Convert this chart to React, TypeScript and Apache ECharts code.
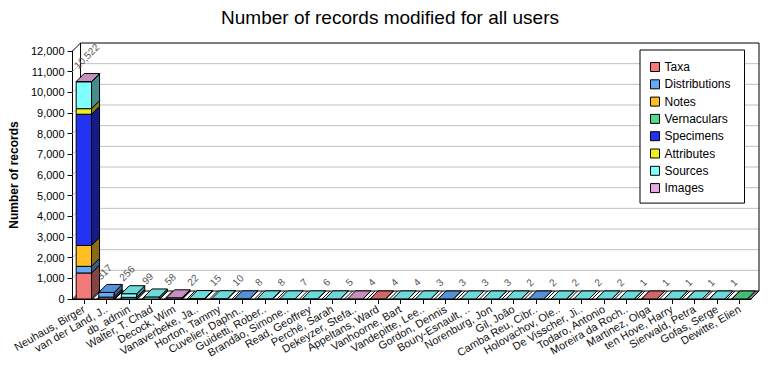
import React, { useEffect, useRef } from "react";
import * as echarts from "echarts";

const categories = [
  "Neuhaus, Birger", "van der Land, J..", "db_admin", "Walter, T. Chad", "Decock, Wim",
  "Vanaverbeke, Ja..", "Horton, Tammy", "Cuvelier, Daphn..", "Guidetti, Rober..", "Brandão, Simone..",
  "Read, Geoffrey", "Perché, Sarah", "Dekeyzer, Stefa..", "Appeltans, Ward", "Vanhoorne, Bart",
  "Vandepitte, Lee..", "Gordon, Dennis", "Boury-Esnault, ..", "Norenburg, Jon", "Gil, João",
  "Camba Reu, Cibr..", "Holovachov, Ole..", "De Visscher, Ji..", "Todaro, Antonio", "Moreira da Roch..",
  "Martinez, Olga", "ten Hove, Harry", "Sierwald, Petra", "Gofas, Serge", "Dewitte, Elien",
];

const taxa =          [1260, 90, 0, 0, 0, 0, 0, 0, 0, 0, 0, 0, 0, 4, 0, 0, 0, 0, 0, 0, 0, 0, 0, 0, 0, 1, 0, 0, 0, 0];
const distributions = [320, 227, 80, 0, 0, 0, 0, 10, 0, 0, 0, 0, 0, 0, 0, 0, 3, 0, 0, 0, 2, 0, 0, 0, 0, 0, 0, 0, 0, 0];
const notes =         [1010, 0, 0, 0, 0, 0, 0, 0, 0, 0, 0, 0, 0, 0, 0, 0, 0, 0, 0, 0, 0, 0, 0, 0, 0, 0, 0, 0, 0, 0];
const vernaculars =   [0, 0, 0, 0, 0, 0, 0, 0, 0, 0, 0, 0, 0, 0, 0, 0, 0, 0, 0, 0, 0, 0, 0, 0, 0, 0, 0, 0, 0, 1];
const specimens =     [6350, 0, 0, 0, 0, 0, 0, 0, 0, 0, 0, 0, 0, 0, 0, 0, 0, 0, 0, 0, 0, 0, 0, 0, 0, 0, 0, 0, 0, 0];
const attributes =    [270, 0, 0, 0, 0, 0, 0, 0, 0, 0, 0, 0, 0, 0, 0, 0, 0, 0, 0, 0, 0, 0, 0, 0, 0, 0, 0, 0, 0, 0];
const sources =       [1302, 0, 176, 99, 0, 22, 15, 0, 8, 8, 7, 6, 0, 0, 4, 4, 0, 3, 3, 3, 0, 2, 2, 2, 2, 0, 1, 1, 1, 0];
const images =        [10, 0, 0, 0, 58, 0, 0, 0, 0, 0, 0, 0, 5, 0, 0, 0, 0, 0, 0, 0, 0, 0, 0, 0, 0, 0, 0, 0, 0, 0];

const seriesNames = ["Taxa", "Distributions", "Notes", "Vernaculars", "Specimens", "Attributes", "Sources", "Images"];
const seriesValues = [taxa, distributions, notes, vernaculars, specimens, attributes, sources, images];
const seriesColors = ["#f47a7a", "#64aaf8", "#ffbf22", "#52dc8a", "#2232f0", "#eeee22", "#80ffff", "#e8a8e0"];

const Y_MAX = 12000;
const Y_STEP = 1000;
const DEPTH = 8;

function shade(hex: string, f: number): string {
  const n = parseInt(hex.slice(1), 16);
  const r = Math.round(((n >> 16) & 255) * f);
  const g = Math.round(((n >> 8) & 255) * f);
  const b = Math.round((n & 255) * f);
  return "rgb(" + r + "," + g + "," + b + ")";
}

export default function App() {
  const ref = useRef<HTMLDivElement>(null);

  useEffect(() => {
    if (!ref.current) return;
    const chart = echarts.init(ref.current, undefined, { renderer: "svg" });

    const totals = categories.map((_, c) => seriesValues.reduce((s, arr) => s + arr[c], 0));
    const topIndex = categories.map((_, c) => {
      let t = -1;
      seriesValues.forEach((arr, s) => { if (arr[c] > 0) t = s; });
      return t;
    });
    const cum = categories.map(() => 0);

    const barSeries = seriesValues.map((arr, s) => {
      const data = arr.map((v, c) => {
        const base = cum[c];
        cum[c] += v;
        return [c, base, base + v, topIndex[c] === s ? 1 : 0];
      });
      const color = seriesColors[s];
      return {
        type: "custom",
        name: seriesNames[s],
        silent: true,
        z: 3,
        itemStyle: { color },
        encode: { x: 0, y: [1, 2] },
        data,
        renderItem: (params: any, api: any) => {
          const c = api.value(0);
          const b = api.value(1);
          const t = api.value(2);
          const isTop = api.value(3);
          if (t <= b) return null;
          const p0 = api.coord([c, b]);
          const p1 = api.coord([c, t]);
          const w = api.size([1, 0])[0] * 0.68;
          const x0 = p0[0] - w / 2;
          const x1 = x0 + w;
          const yb = p0[1];
          const yt = p1[1];
          const children: any[] = [
            {
              type: "rect",
              shape: { x: x0, y: yt, width: w, height: yb - yt },
              style: { fill: color, stroke: "#000", lineWidth: 1 },
            },
            {
              type: "polygon",
              shape: { points: [[x1, yb], [x1 + DEPTH, yb - DEPTH], [x1 + DEPTH, yt - DEPTH], [x1, yt]] },
              style: { fill: shade(color, 0.55), stroke: "#000", lineWidth: 1 },
            },
          ];
          if (isTop) {
            children.push({
              type: "polygon",
              shape: { points: [[x0, yt], [x1, yt], [x1 + DEPTH, yt - DEPTH], [x0 + DEPTH, yt - DEPTH]] },
              style: { fill: shade(color, 0.85), stroke: "#000", lineWidth: 1 },
            });
          }
          return { type: "group", children };
        },
      };
    });

    const yTicks: number[] = [];
    for (let v = 0; v <= Y_MAX; v += Y_STEP) yTicks.push(v);

    const frameSeries = {
      type: "custom",
      name: "frame",
      silent: true,
      z: 1,
      encode: { x: 0, y: 1 },
      data: [[0, 0]],
      renderItem: (params: any, api: any) => {
        const cs = params.coordSys;
        const left = cs.x;
        const right = cs.x + cs.width;
        const bottom = cs.y + cs.height;
        const top = cs.y;
        const D = DEPTH;
        const children: any[] = [];
        yTicks.forEach((v) => {
          if (v === 0) return;
          const y = api.coord([0, v])[1];
          const col = v === Y_MAX ? "#000" : "#c0c0c0";
          children.push({ type: "line", shape: { x1: left + D, y1: y - D, x2: right + D, y2: y - D }, style: { stroke: col, lineWidth: 1 } });
          children.push({ type: "line", shape: { x1: left, y1: y, x2: left + D, y2: y - D }, style: { stroke: col, lineWidth: 1 } });
        });
        children.push({ type: "line", shape: { x1: left + D, y1: top - D, x2: left + D, y2: bottom - D }, style: { stroke: "#000", lineWidth: 1 } });
        children.push({ type: "line", shape: { x1: right + D, y1: top - D, x2: right + D, y2: bottom - D }, style: { stroke: "#000", lineWidth: 1 } });
        children.push({
          type: "polygon",
          shape: { points: [[left, bottom], [right, bottom], [right + D, bottom - D], [left + D, bottom - D]] },
          style: { fill: "#fff", stroke: "#000", lineWidth: 1 },
        });
        for (let x = left + 2; x < right; x += 4.5) {
          children.push({ type: "line", shape: { x1: x, y1: bottom, x2: x + D, y2: bottom - D }, style: { stroke: "#000", lineWidth: 1 } });
        }
        return { type: "group", children };
      },
    };

    const labelSeries = {
      type: "custom",
      name: "totals",
      silent: true,
      z: 4,
      encode: { x: 0, y: 1 },
      data: totals.map((t, c) => [c, t]),
      renderItem: (params: any, api: any) => {
        const c = api.value(0);
        const t = api.value(1);
        const p = api.coord([c, t]);
        return {
          type: "group",
          x: p[0] - 4.5,
          y: p[1] - DEPTH - 3,
          rotation: Math.PI / 4,
          children: [
            {
              type: "text",
              x: 0,
              y: 0,
              style: {
                text: t.toLocaleString("en-US"),
                fill: "#555",
                fontSize: 10,
                fontFamily: "'Liberation Sans', Arial, sans-serif",
                align: "left",
                verticalAlign: "bottom",
              },
            },
          ],
        };
      },
    };

    chart.setOption({
      animation: false,
      backgroundColor: "#fff",
      textStyle: { fontFamily: "'Liberation Sans', Arial, sans-serif" },
      title: {
        text: "Number of records modified for all users",
        left: "center",
        top: 3,
        textStyle: { fontSize: 19, fontWeight: "normal", color: "#000" },
      },
      legend: {
        data: seriesNames,
        orient: "vertical",
        left: 640,
        top: 50,
        padding: [10, 14, 8, 10],
        itemWidth: 9,
        itemHeight: 9,
        itemGap: 3.3,
        icon: "rect",
        backgroundColor: "#fff",
        borderColor: "#000",
        borderWidth: 1,
        z: 10,
        itemStyle: { borderColor: "#000", borderWidth: 1 },
        textStyle: { fontSize: 12, color: "#000", lineHeight: 14 },
      },
      grid: { left: 61, right: 29, top: 51, bottom: 81 },
      xAxis: {
        type: "category",
        data: categories,
        axisLine: { show: true, lineStyle: { color: "#000" } },
        axisTick: { show: true, alignWithLabel: true, length: 5, lineStyle: { color: "#000" } },
        axisLabel: { rotate: 30, fontSize: 11, color: "#111", margin: 9, interval: 0 },
        splitLine: { show: false },
      },
      yAxis: {
        type: "value",
        min: 0,
        max: Y_MAX,
        interval: Y_STEP,
        name: "Number of records",
        nameLocation: "middle",
        nameGap: 51,
        nameTextStyle: { fontSize: 12, fontWeight: "bold", color: "#000" },
        axisLine: { show: true, lineStyle: { color: "#000" } },
        axisTick: { show: true, length: 5, lineStyle: { color: "#000" } },
        axisLabel: { fontSize: 11, color: "#000", margin: 8, formatter: (v: number) => v.toLocaleString("en-US") },
        splitLine: { show: false },
      },
      series: [frameSeries, ...barSeries, labelSeries],
    });

    return () => chart.dispose();
  }, []);

  return <div ref={ref} style={{ position: "fixed", left: 0, top: 0, width: 780, height: 380 }} />;
}
